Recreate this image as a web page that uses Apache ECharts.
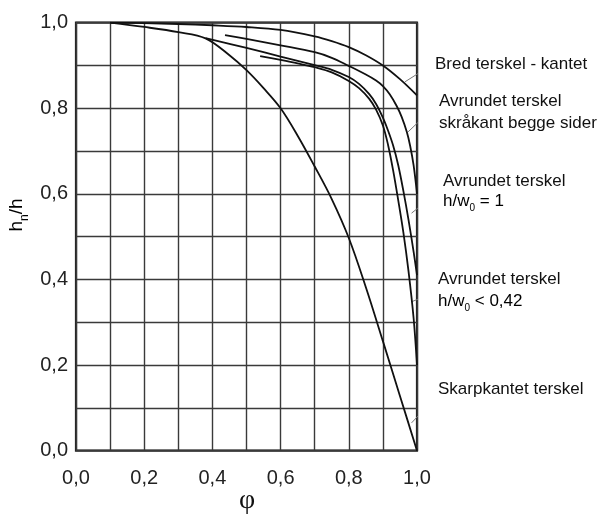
<!DOCTYPE html>
<html><head><meta charset="utf-8">
<script src="https://cdn.jsdelivr.net/npm/echarts@6/dist/echarts.min.js"></script>
<style>html,body{margin:0;padding:0;background:#fff}#c{width:602px;height:515px}</style>
</head><body><div id="c"></div>
<script>
// tick labels
const xTickLabels = ['0,0','0,2','0,4','0,6','0,8','1,0'];
const yTickLabels = ['0,0','0,2','0,4','0,6','0,8','1,0'];

// curves [phi, hn/h]
const bredTerskel = [[0.1,1.0],[0.2,0.999],[0.3,0.997],[0.4,0.994],[0.5,0.99],[0.6,0.983],[0.7,0.968],[0.75,0.957],[0.8,0.943],[0.85,0.924],[0.9,0.9],[0.95,0.868],[1.0,0.83]];
const skraakant = [[0.437,0.971],[0.5,0.962],[0.6,0.947],[0.7,0.931],[0.75,0.918],[0.8,0.899],[0.85,0.879],[0.88,0.865],[0.9,0.852],[0.92,0.833],[0.94,0.806],[0.955,0.78],[0.97,0.745],[0.98,0.712],[0.99,0.667],[1.0,0.6]];
const avrundet1 = [[0.38,0.964],[0.5,0.941],[0.6,0.921],[0.7,0.901],[0.75,0.89],[0.8,0.873],[0.83,0.857],[0.86,0.833],[0.88,0.81],[0.9,0.778],[0.915,0.748],[0.93,0.713],[0.945,0.667],[0.96,0.607],[0.975,0.54],[0.99,0.465],[1.0,0.41]];
const avrundet042 = [[0.54,0.922],[0.6,0.913],[0.65,0.905],[0.7,0.896],[0.75,0.884],[0.8,0.864],[0.83,0.847],[0.86,0.822],[0.88,0.797],[0.9,0.76],[0.915,0.715],[0.93,0.655],[0.945,0.585],[0.96,0.51],[0.975,0.42],[0.99,0.31],[1.0,0.2]];
const skarpkantet = [[0.1,1.0],[0.2,0.99],[0.3,0.978],[0.38,0.9635],[0.45,0.924],[0.5,0.889],[0.55,0.847],[0.6,0.8],[0.65,0.736],[0.7,0.664],[0.75,0.588],[0.8,0.497],[0.85,0.382],[0.9,0.256],[0.95,0.128],[1.0,0.0]];

// leader lines [label end, curve end]
const leaderBred = [[1.058,0.909],[0.965,0.862]];
const leaderSkraa = [[1.062,0.812],[0.974,0.745]];
const leaderAvr1 = [[1.058,0.602],[0.984,0.555]];
const leaderAvr042 = [[1.047,0.368],[0.984,0.348]];
const leaderSkarp = [[1.047,0.118],[0.984,0.065]];

const chart = echarts.init(document.getElementById('c'), null, {renderer:'canvas'});
const FONT = 'Liberation Sans, Arial, sans-serif';
function curve(d){return {type:'line',data:d,symbol:'none',smooth:0.35,lineStyle:{color:'#111',width:1.8},silent:true,z:5};}
function leader(d){return {type:'line',data:d,symbol:'none',clip:false,lineStyle:{color:'#777',width:1},silent:true,z:4};}
function fmt(labels){return v=>{const i=Math.round(v*10);return i%2===0?labels[i/2]:'';};}
const labelStyle = {fontFamily:FONT,fontSize:17,fill:'#111'};
chart.setOption({
  animation:false,
  grid:{left:76,right:185,top:22.7,bottom:64.3,show:true,borderColor:'#222',borderWidth:2.2,backgroundColor:'transparent'},
  xAxis:{type:'value',min:0,max:1,interval:0.1,
    axisLine:{show:false},axisTick:{show:false},
    splitLine:{show:true,lineStyle:{color:'#3a3a3a',width:1.4}},
    axisLabel:{formatter:fmt(xTickLabels),color:'#222',fontSize:20,fontFamily:FONT,margin:18}},
  yAxis:{type:'value',min:0,max:1,interval:0.1,
    axisLine:{show:false},axisTick:{show:false},
    splitLine:{show:true,lineStyle:{color:'#3a3a3a',width:1.4}},
    axisLabel:{formatter:fmt(yTickLabels),color:'#222',fontSize:20,fontFamily:FONT,margin:8}},
  series:[curve(bredTerskel),curve(skraakant),curve(avrundet1),curve(avrundet042),curve(skarpkantet),
    leader(leaderBred),leader(leaderSkraa),leader(leaderAvr1),leader(leaderAvr042),leader(leaderSkarp)],
  graphic:[
    {type:'text',x:435,y:64,style:Object.assign({text:'Bred terskel - kantet',verticalAlign:'middle'},labelStyle)},
    {type:'text',x:439,y:101,style:Object.assign({text:'Avrundet terskel',verticalAlign:'middle'},labelStyle)},
    {type:'text',x:439,y:123,style:Object.assign({text:'skråkant begge sider',verticalAlign:'middle'},labelStyle)},
    {type:'text',x:443,y:181,style:Object.assign({text:'Avrundet terskel',verticalAlign:'middle'},labelStyle)},
    {type:'text',x:443,y:203,style:{text:'{a|h/w}{s|0}{a| = 1}',verticalAlign:'middle',rich:{a:{fontFamily:FONT,fontSize:17,color:'#111',padding:[0,0,3,0],verticalAlign:'bottom'},s:{fontFamily:FONT,fontSize:10,color:'#111',verticalAlign:'bottom'}}}},
    {type:'text',x:438,y:279,style:Object.assign({text:'Avrundet terskel',verticalAlign:'middle'},labelStyle)},
    {type:'text',x:438,y:303,style:{text:'{a|h/w}{s|0}{a| < 0,42}',verticalAlign:'middle',rich:{a:{fontFamily:FONT,fontSize:17,color:'#111',padding:[0,0,3,0],verticalAlign:'bottom'},s:{fontFamily:FONT,fontSize:10,color:'#111',verticalAlign:'bottom'}}}},
    {type:'text',x:438,y:389,style:Object.assign({text:'Skarpkantet terskel',verticalAlign:'middle'},labelStyle)},
    {type:'text',x:247,y:501,style:{text:'φ',fontFamily:'Liberation Serif, serif',fontSize:28,fill:'#111',align:'center',verticalAlign:'middle'}},
    {type:'text',x:19,y:215,rotation:Math.PI/2,style:{text:'{a|h}{s|n}{a|/h}',align:'center',verticalAlign:'middle',rich:{a:{fontFamily:FONT,fontSize:19,color:'#222',padding:[0,0,4,0],verticalAlign:'bottom'},s:{fontFamily:FONT,fontSize:12,color:'#222',verticalAlign:'bottom'}}}}
  ]
});
</script></body></html>
